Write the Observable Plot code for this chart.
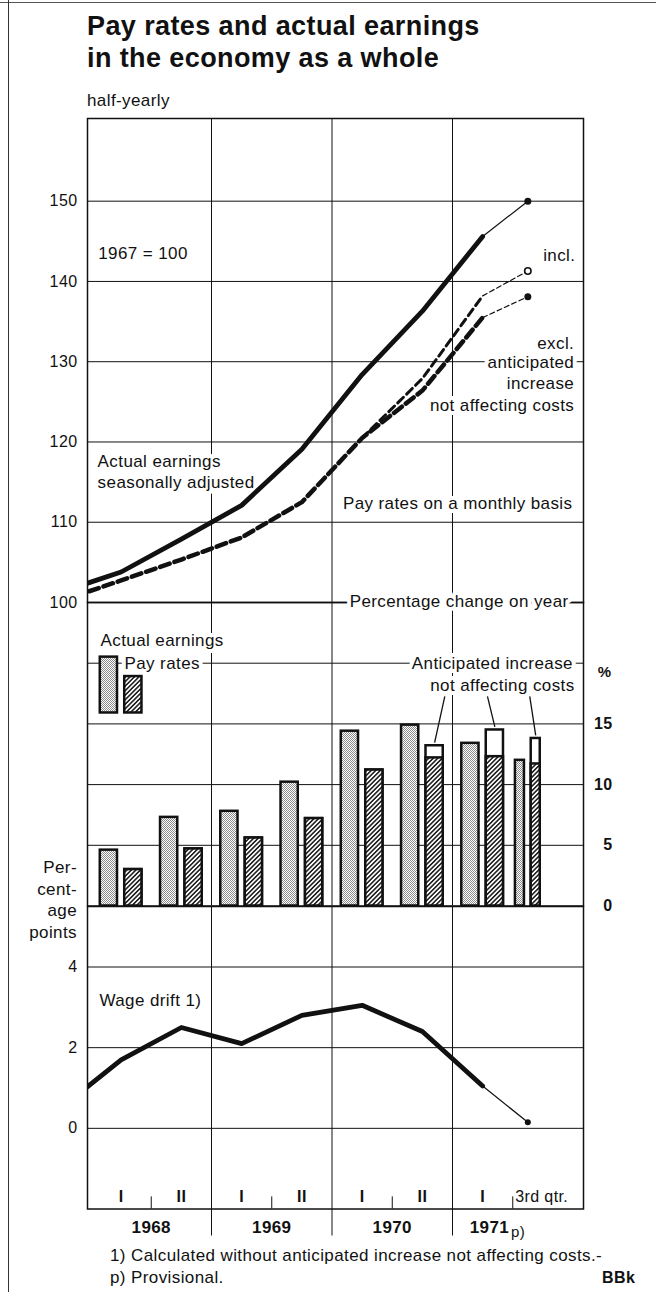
<!DOCTYPE html>
<html>
<head>
<meta charset="utf-8">
<script src="https://cdn.jsdelivr.net/npm/d3@7"></script>
<script src="https://cdn.jsdelivr.net/npm/@observablehq/plot@0.6"></script>
<style>
  body { margin: 0; background: #fff; }
  #page { position: relative; width: 656px; height: 1292px; overflow: hidden; background: #fff;
          font-family: "Liberation Sans", Arial, sans-serif; color: #111; letter-spacing: 0.4px; }
  .abs { position: absolute; white-space: nowrap; }
</style>
</head>
<body>
<div id="page">
  <div class="abs" style="left:0;top:2px;width:656px;height:0;border-top:1px solid #555;"></div>
  <div class="abs" style="left:8px;top:0;width:0;height:1292px;border-left:1.5px solid #333;"></div>
  <div class="abs" style="left:87px;top:10px;font-size:27px;line-height:32px;font-weight:bold;">Pay rates and actual earnings<br>in the economy as a whole</div>
  <div class="abs" style="left:87px;top:91px;font-size:17px;line-height:20px;">half-yearly</div>
  <div class="abs" style="right:579px;top:857px;font-size:17px;line-height:21.7px;text-align:right;">Per-<br>cent-<br>age<br>points</div>
  <div class="abs" style="left:110px;top:1245px;font-size:17px;line-height:22px;">1) Calculated without anticipated increase not affecting costs.-<br>p) Provisional.</div>
  <div class="abs" style="left:602px;top:1267px;font-size:16px;line-height:22px;font-weight:bold;">BBk</div>
  <svg width="0" height="0" style="position:absolute">
    <defs>
      <pattern id="stipple" x="0" y="0" width="2" height="2" patternUnits="userSpaceOnUse">
        <rect width="2" height="2" fill="#fff"/>
        <rect x="0" y="0" width="1" height="1" fill="#8a8a8a"/>
        <rect x="1" y="1" width="1" height="1" fill="#8a8a8a"/>
      </pattern>
      <pattern id="hatch" width="3.2" height="3.2" patternUnits="userSpaceOnUse" patternTransform="rotate(45)">
        <rect width="3.2" height="3.2" fill="#fff"/>
        <rect x="0" y="0" width="1.6" height="3.2" fill="#222"/>
      </pattern>
    </defs>
  </svg>
</div>
<script>
// ---------------- data ----------------
const periods = ["1967 II","1968 I","1968 II","1969 I","1969 II","1970 I","1970 II","1971 I","1971 3rd qtr."];
const periodMid = [1967.75,1968.25,1968.75,1969.25,1969.75,1970.25,1970.75,1971.25,1971.625];
const periodLength = [0.5,0.5,0.5,0.5,0.5,0.5,0.5,0.5,0.25];
// index, 1967 = 100
const actualEarnings = [101.3,103.8,107.9,112.1,119.1,128.4,136.3,145.6,150.0];
const payRatesExcl   = [100.2,102.75,105.35,108.1,112.5,120.5,126.4,135.5,138.1];
const payRatesIncl   = [null,null,null,null,null,120.5,127.9,138.2,141.3];
// percentage change on year
const earningsChange = [null,4.6,7.3,7.8,10.2,14.4,14.9,13.4,12.0];
const payChangeExcl  = [null,3.0,4.7,5.6,7.2,11.2,12.2,12.3,11.7];
const payChangeIncl  = [null,3.0,4.7,5.6,7.2,11.2,13.2,14.5,13.8];
// wage drift, percentage points
const wageDrift = [0.5,1.7,2.5,2.1,2.8,3.05,2.4,1.05,0.15];
// ticks / labels
const indexTicks = [100,110,120,130,140,150];
const pctTicks = [0,5,10,15];
const driftTicks = [0,2,4];
const years = [1968,1969,1970,1971];
const halfYearLabels = ["I","II","I","II","I","II","I"];

// ---------------- tables ----------------
const rows = periods.map((p, i) => ({
  p, t: periodMid[i], len: periodLength[i],
  actual: actualEarnings[i], excl: payRatesExcl[i], incl: payRatesIncl[i],
  earn: earningsChange[i], pexcl: payChangeExcl[i], pincl: payChangeIncl[i],
  drift: wageDrift[i]
}));
const bars = rows.filter(d => d.earn != null);
const barW = d => d.len === 0.5 ? 0.143 : 0.075;
const barG = d => d.len === 0.5 ? 0.030 : 0.028;

const xDomain = [1967.971, 1972.087];
const FONT = '"Liberation Sans", Arial, sans-serif';
const baseStyle = {fontFamily: FONT, fontSize: "17px", overflow: "visible", background: "transparent", color: "#111", letterSpacing: "0.4px"};
const common = {width: 656, marginLeft: 87, marginRight: 73, x: {domain: xDomain, axis: null}, style: baseStyle};
const halo = {stroke: "white", strokeWidth: 8, strokeLinejoin: "round", fill: "#111", fontSize: 17, lineAnchor: "middle"};
const grid = {stroke: "#111", strokeWidth: 1};

// ---------------- panel A: index ----------------
const notesA = [
  {s: "1967 = 100", x: 1968.06, y: 143.5, a: "start"},
  {s: "incl.", x: 1972.02, y: 143.2, a: "end"},
  {s: "excl.", x: 1972.01, y: 132.3, a: "end"},
  {s: "anticipated", x: 1972.01, y: 129.9, a: "end"},
  {s: "increase", x: 1972.01, y: 127.3, a: "end"},
  {s: "not affecting costs", x: 1972.01, y: 124.5, a: "end"},
  {s: "Actual earnings", x: 1968.055, y: 117.5, a: "start"},
  {s: "seasonally adjusted", x: 1968.055, y: 114.9, a: "start"},
  {s: "Pay rates on a monthly basis", x: 1971.995, y: 112.3, a: "end"}
];
const solid = rows.slice(0, 8), tail = rows.slice(7), last = rows.slice(8);
const inclRows = rows.filter(d => d.incl != null);
const panelA = Plot.plot({
  ...common, height: 492, marginTop: 8, marginBottom: 0,
  y: {domain: [100, 160.3]},
  marks: [
    Plot.ruleY(indexTicks.slice(1), grid),
    Plot.ruleX([1969, 1970, 1971], grid),
    Plot.frame({stroke: "#111", strokeWidth: 1.5}),
    Plot.axisY(indexTicks, {tickSize: 0, tickPadding: 10, fontSize: 16, label: null}),
    Plot.text(notesA.filter(d => d.a === "start"), {x: "x", y: "y", text: "s", textAnchor: "start", ...halo}),
    Plot.text(notesA.filter(d => d.a === "end"), {x: "x", y: "y", text: "s", textAnchor: "end", ...halo}),
    // pay rates
    Plot.line(solid, {x: "t", y: "excl", stroke: "#111", strokeWidth: 4.5, strokeDasharray: "10,5", clip: true}),
    Plot.line(inclRows.slice(0, 3), {x: "t", y: "incl", stroke: "#111", strokeWidth: 3, strokeDasharray: "8,4.5"}),
    Plot.line(tail, {x: "t", y: "excl", stroke: "#111", strokeWidth: 1.2, strokeDasharray: "5,3"}),
    Plot.line(inclRows.slice(2), {x: "t", y: "incl", stroke: "#111", strokeWidth: 1.2, strokeDasharray: "5,3"}),
    Plot.dot(last, {x: "t", y: "excl", r: 3.5, fill: "#111"}),
    Plot.dot(last, {x: "t", y: "incl", r: 3.2, fill: "white", stroke: "#111", strokeWidth: 1.6}),
    // actual earnings
    Plot.line(solid, {x: "t", y: "actual", stroke: "#111", strokeWidth: 4.8, clip: true}),
    Plot.line(tail, {x: "t", y: "actual", stroke: "#111", strokeWidth: 1.2}),
    Plot.dot(last, {x: "t", y: "actual", r: 3.5, fill: "#111"})
  ]
});

// ---------------- panel B: percentage change ----------------
const legendBars = [{kind: "earn", t: 1968.25, len: 0.5, y1: 15.9, y2: 20.5}, {kind: "pay", t: 1968.25, len: 0.5, y1: 15.9, y2: 18.9}];
const notesB = [
  {s: "Actual earnings", x: 1968.079, y: 21.9, a: "start"},
  {s: "Pay rates", x: 1968.278, y: 19.95, a: "start"},
  {s: "Percentage change on year", x: 1971.963, y: 25.05, a: "end"},
  {s: "Anticipated increase", x: 1971.999, y: 19.95, a: "end"},
  {s: "not affecting costs", x: 1972.013, y: 18.16, a: "end"}
];
const leaders = bars.filter(d => d.pincl > d.pexcl).map((d, i) => ({
  x1: [1970.936, 1971.29, 1971.641][i], y1: 17.26,
  x2: d.t + barG(d) + barW(d) / 2, y2: d.pincl + 0.25
}));
const barStroke = {stroke: "#111", strokeWidth: 2.5};
const panelB = Plot.plot({
  ...common, height: 303.5, marginTop: 0, marginBottom: 0,
  y: {domain: [0, 25], axis: null},
  marks: [
    Plot.ruleY([5, 10, 15, 20], grid),
    Plot.ruleX([1969, 1970, 1971], grid),
    Plot.frame({stroke: "#111", strokeWidth: 1.5}),
    Plot.text(pctTicks, {y: d => d, text: d => String(d), frameAnchor: "right", dx: 29, textAnchor: "end", fontWeight: "bold", fontSize: 16, lineAnchor: "middle"}),
    Plot.text(["%"], {y: () => 19.3, text: d => d, frameAnchor: "right", dx: 28, textAnchor: "end", fontWeight: "bold", fontSize: 15, lineAnchor: "middle"}),
    Plot.text(notesB.filter(d => d.a === "start"), {x: "x", y: "y", text: "s", textAnchor: "start", ...halo}),
    Plot.text(notesB.filter(d => d.a === "end"), {x: "x", y: "y", text: "s", textAnchor: "end", ...halo}),
    Plot.link(leaders, {x1: "x1", y1: "y1", x2: "x2", y2: "y2", stroke: "#111", strokeWidth: 1.3}),
    // legend boxes
    Plot.rect(legendBars.filter(d => d.kind === "earn"), {x1: d => d.t - barG(d) - barW(d), x2: d => d.t - barG(d), y1: "y1", y2: "y2", fill: "url(#stipple)", ...barStroke}),
    Plot.rect(legendBars.filter(d => d.kind === "pay"), {x1: d => d.t + barG(d), x2: d => d.t + barG(d) + barW(d), y1: "y1", y2: "y2", fill: "url(#hatch)", ...barStroke}),
    // bars
    Plot.rect(bars, {x1: d => d.t - barG(d) - barW(d), x2: d => d.t - barG(d), y1: 0, y2: "earn", fill: "url(#stipple)", ...barStroke}),
    Plot.rect(bars, {x1: d => d.t + barG(d), x2: d => d.t + barG(d) + barW(d), y1: 0, y2: "pincl", fill: "white", ...barStroke}),
    Plot.rect(bars, {x1: d => d.t + barG(d), x2: d => d.t + barG(d) + barW(d), y1: 0, y2: "pexcl", fill: "url(#hatch)", ...barStroke})
  ]
});

// ---------------- panel C: wage drift ----------------
const halfRows = halfYearLabels.map((s, i) => ({s, t: periodMid[i + 1]}));
const panelC = Plot.plot({
  ...common, height: 362.5, marginTop: 0, marginBottom: 60,
  y: {domain: [-2, 5.5]},
  marks: [
    Plot.ruleY(driftTicks, grid),
    Plot.ruleX([1969, 1970, 1971], {...grid, y1: -2.67, y2: 5.5}),
    Plot.ruleX(years.map(y => y + 0.5), {...grid, y1: -2, y2: -1.7}),
    Plot.frame({stroke: "#111", strokeWidth: 1.5}),
    Plot.axisY(driftTicks, {tickSize: 0, tickPadding: 10, fontSize: 16, label: null}),
    Plot.text(["Wage drift 1)"], {x: () => 1968.07, y: () => 3.18, text: d => d, textAnchor: "start", ...halo}),
    Plot.text(halfRows, {x: "t", y: () => -2, text: "s", dy: -12, fontSize: 16, fontWeight: "bold", lineAnchor: "middle"}),
    Plot.text(["3rd qtr."], {x: () => 1971.52, y: () => -2, text: d => d, dy: -12, fontSize: 16, textAnchor: "start", lineAnchor: "middle"}),
    Plot.text(years.slice(0, 3), {x: d => d + 0.5, y: () => -2, text: d => String(d), dy: 19, fontSize: 17, fontWeight: "bold", lineAnchor: "middle"}),
    Plot.text(years.slice(3), {x: d => d + 0.47, y: () => -2, text: d => String(d), dy: 19, fontSize: 17, fontWeight: "bold", textAnchor: "end", lineAnchor: "middle"}),
    Plot.text(["p)"], {x: () => 1971.485, y: () => -2, text: d => d, dy: 23, fontSize: 15, textAnchor: "start", lineAnchor: "middle"}),
    Plot.line(solid, {x: "t", y: "drift", stroke: "#111", strokeWidth: 4.8, clip: true}),
    Plot.line(tail, {x: "t", y: "drift", stroke: "#111", strokeWidth: 1.2}),
    Plot.dot(last, {x: "t", y: "drift", r: 3, fill: "#111"})
  ]
});

const page = document.getElementById("page");
[[panelA, 110], [panelB, 602], [panelC, 905.5]].forEach(([svg, top]) => {
  svg.style.position = "absolute";
  svg.style.left = "0px";
  svg.style.top = top + "px";
  svg.style.overflow = "visible";
  svg.querySelectorAll("text").forEach(t => t.setAttribute("paint-order", "stroke"));
  page.appendChild(svg);
});
</script>
</body>
</html>
